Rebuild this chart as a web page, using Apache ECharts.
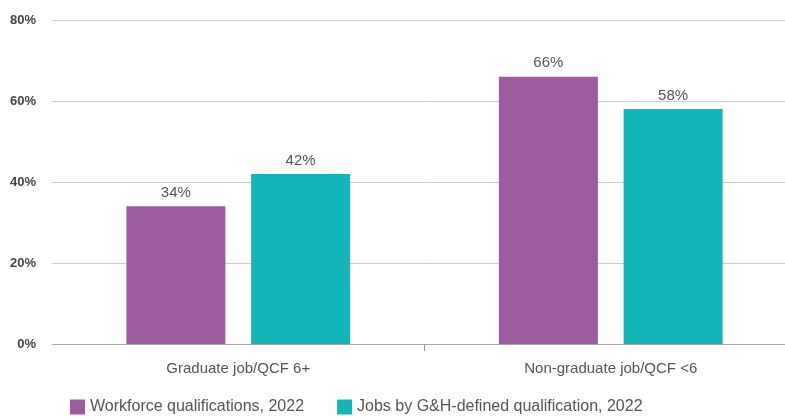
<!DOCTYPE html>
<html><head><meta charset="utf-8">
<script src="https://cdn.jsdelivr.net/npm/echarts@6/dist/echarts.min.js"></script>
<style>html,body{margin:0;padding:0;background:#fff;overflow:hidden}#c{width:797px;height:420px}</style>
</head><body><div id="c"></div>
<script>
const categories = ['Graduate job/QCF 6+', 'Non-graduate job/QCF <6'];
const workforce = [34, 66];
const jobs = [42, 58];
const seriesNames = ['Workforce qualifications, 2022', 'Jobs by G&H-defined qualification, 2022'];
const yTicks = [0, 20, 40, 60, 80];

const boundaries = categories.slice(1).map((_, i) => i + 1);
const chart = echarts.init(document.getElementById('c'), null, {renderer: 'canvas'});
const font = '"Liberation Sans", Arial, sans-serif';
const lbl = {show: true, position: 'top', distance: 6, formatter: '{c}%', color: '#555', fontSize: 15, fontFamily: font};
chart.setOption({
  animation: false,
  grid: {left: 52, top: 20, right: 0, bottom: 76, containLabel: false},
  legend: {
    bottom: 0, left: 65, itemWidth: 15, itemHeight: 15, itemGap: 33, icon: 'rect',
    textStyle: {fontSize: 16, color: '#555', fontFamily: font}
  },
  xAxis: [{
    type: 'category', data: categories,
    axisLine: {lineStyle: {color: '#aaa'}},
    axisTick: {show: false},
    axisLabel: {color: '#555', fontSize: 15, margin: 17, fontFamily: font}
  }, {
    type: 'value', position: 'bottom', min: 0, max: categories.length,
    axisLine: {show: false}, axisLabel: {show: false}, splitLine: {show: false},
    axisTick: {show: true, customValues: boundaries, length: 7, lineStyle: {color: '#999'}}
  }],
  yAxis: {
    type: 'value', min: yTicks[0], max: yTicks[yTicks.length-1], interval: 20,
    axisLine: {show: false}, axisTick: {show: false},
    splitLine: {lineStyle: {color: '#ccc'}},
    axisLabel: {formatter: '{value}%', color: '#444', fontWeight: 'bold', fontSize: 13, margin: 16, fontFamily: font}
  },
  series: [
    {name: seriesNames[0], type: 'bar', xAxisIndex: 0, data: workforce, barWidth: 99, barGap: '26%', itemStyle: {color: '#9C5C9F'}, label: lbl},
    {name: seriesNames[1], type: 'bar', xAxisIndex: 0, data: jobs, barWidth: 99, barGap: '26%', itemStyle: {color: '#13B5B8'}, label: lbl}
  ]
});
</script></body></html>
